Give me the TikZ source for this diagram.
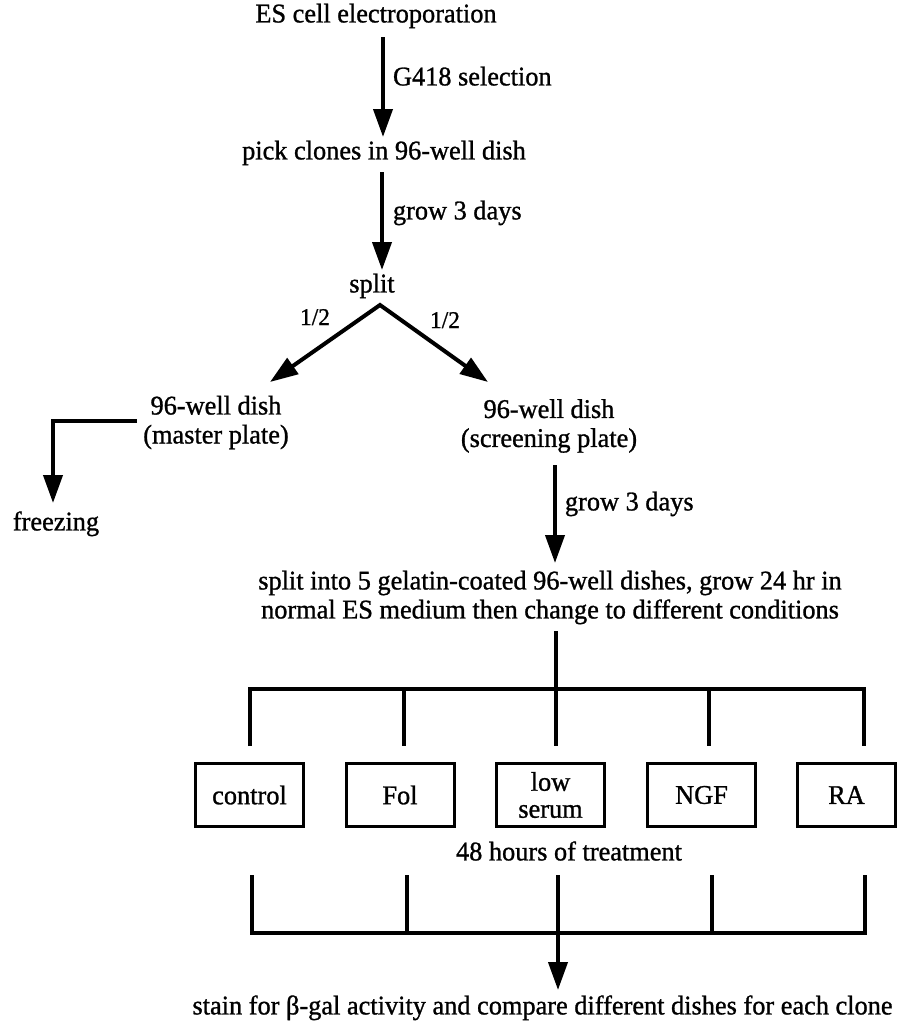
\documentclass[tikz,border=0pt]{standalone}
\usepackage{fontspec}
\setmainfont{Liberation Serif}[FakeBold=1.0,FakeStretch=0.975]
\usetikzlibrary{arrows.meta}
\begin{document}
\begin{tikzpicture}[x=1pt,y=-1pt,
  every node/.style={font=\fontsize{27}{29}\selectfont, inner sep=0pt, outer sep=0pt},
  t/.style={text height=0.7em, text depth=0.22em},
  two/.style={align=center},
  small/.style={font=\fontsize{24}{26}\selectfont, text height=0.7em, text depth=0.1em},
  arr/.style={line width=4pt, line join=miter, -{Triangle[length=28pt,width=19pt]}},
  darr/.style={line width=4pt, line join=miter, {Triangle[length=28pt,width=19pt]}-{Triangle[length=28pt,width=19pt]}},
  ln/.style={line width=4pt, line join=miter},
  box/.style={draw, line width=3pt, minimum width=108pt, minimum height=63pt, align=center}
]
\fill[white] (0,0) rectangle (898,1023);
\useasboundingbox (0,0) rectangle (898,1023);

% top chain
\node[t] (es) at (376,20) {ES cell electroporation};
\node[t,anchor=west] (g418) at (393,83) {G418 selection};
\node[t] (pick) at (384,157) {pick clones in 96-well dish};
\node[t,anchor=west] (grow1) at (393,217) {grow 3 days};
\node[t] (split) at (372,290) {split};
\coordinate (a1s) at (383,37);  \coordinate (a1e) at (383,137);
\coordinate (a2s) at (382,172); \coordinate (a2e) at (382,270);
\draw[arr] (a1s) -- (a1e);
\draw[arr] (a2s) -- (a2e);

% split
\coordinate (apex) at (380,305);
\coordinate (ltip) at (270,382);
\coordinate (rtip) at (488,382);
\draw[darr] (ltip) -- (apex) -- (rtip);
\node[small] (hl) at (315,322) {1/2};
\node[small] (hr) at (445,325) {1/2};

\node[two] (master) at (216,422.5) {96-well dish\\(master plate)};
\node[two] (screen) at (549,426) {96-well dish\\(screening plate)};

% freezing
\coordinate (m1) at (137,421);
\coordinate (m2) at (53,421);
\coordinate (m3) at (53,503);
\draw[arr] (m1) -- (m2) -- (m3);
\node[t] (freeze) at (56,528) {freezing};

% grow 3 days
\coordinate (a3s) at (555,465); \coordinate (a3e) at (555,563);
\draw[arr] (a3s) -- (a3e);
\node[t,anchor=west] (grow2) at (565,508) {grow 3 days};

\node[two] (split5) at (550,597.5) {split into 5 gelatin-coated 96-well dishes, grow 24 hr in\\normal ES medium then change to different conditions};

% distribution tree
\coordinate (top) at (556,631);
\foreach \n/\x in {1/250,2/404,3/556,4/709,5/864}{
  \coordinate (u\n) at (\x,689);
  \coordinate (v\n) at (\x,746);
}
\draw[ln] (top) -- (u3);
\draw[ln] (v1) -- (u1) -- (u5) -- (v5);
\draw[ln] (u2) -- (v2);
\draw[ln] (u3) -- (v3);
\draw[ln] (u4) -- (v4);

% boxes
\node[box] (ctrl) at (249.5,795) {control};
\node[box] (fol) at (400,795) {Fol};
\node[box,font=\fontsize{27}{27}\selectfont] (low) at (550.5,795) {low\\serum};
\node[box] (ngf) at (701.5,795) {NGF};
\node[box,minimum width=98pt] (ra) at (846.5,795) {RA};

\node[t] (hrs) at (569,858) {48 hours of treatment};

% collection tree
\foreach \n/\x in {1/252,2/407,3/558,4/712,5/865}{
  \coordinate (p\n) at (\x,875);
  \coordinate (q\n) at (\x,933);
}
\draw[ln] (p1) -- (q1) -- (q5) -- (p5);
\draw[ln] (p2) -- (q2);
\draw[ln] (p3) -- (q3);
\draw[ln] (p4) -- (q4);
\coordinate (stip) at (558,990);
\draw[arr] (q3) -- (stip);

\node[t] (stain) at (542.5,1012) {stain for β-gal activity and compare different dishes for each clone};
\end{tikzpicture}
\end{document}
